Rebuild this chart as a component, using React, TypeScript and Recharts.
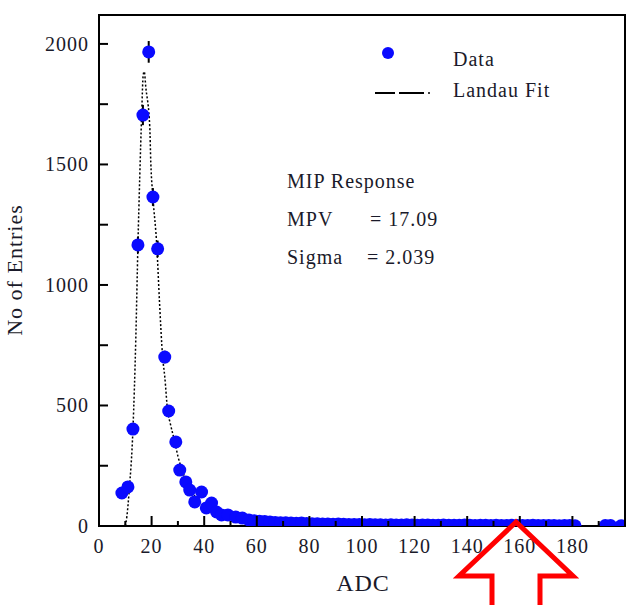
import React from 'react';
import {
  ComposedChart,
  Scatter,
  Line,
  XAxis,
  YAxis,
  ErrorBar,
  ReferenceArea,
} from 'recharts';

// measured histogram (ADC bin centre, entries, stat. error)
const dataAdc = [
  8.7, 11, 12.9, 14.8, 16.7, 18.9, 20.5, 22.3, 25, 26.5, 29.2, 30.7, 33, 34.5, 36.4, 39, 40.8, 42.8,
  44.7, 46.6, 49, 52, 54.5, 57, 59, 61, 63, 65, 67, 69, 71, 73, 75, 77, 79, 81, 83, 85, 87, 89, 91,
  93, 95, 97, 99, 101, 103, 105, 107, 109, 111, 113, 115, 117, 119, 121, 123, 125, 127, 129, 131,
  133, 135, 137, 139, 141, 143, 145, 147, 149, 151, 153, 155, 157, 159, 161, 163, 165, 167, 169,
  171, 173, 175, 177, 179, 181, 192.5, 194.5, 198.5,
];
const dataCounts = [
  137, 162, 402, 1166, 1705, 1967, 1365, 1150, 701, 477, 349, 232, 183, 149, 100, 141, 75, 95,
  58, 46, 46, 37, 33, 25, 22, 20, 19, 17, 15, 14, 13, 12, 11, 12, 10, 9, 9, 8, 8, 7, 8,
  7, 6, 6, 6, 5, 6, 5, 5, 4, 5, 4, 4, 5, 4, 3, 4, 4, 3, 3, 4,
  3, 3, 3, 4, 3, 2, 3, 3, 2, 3, 2, 2, 3, 2, 2, 2, 3, 2, 2,
  2, 2, 1, 2, 2, 1, 2, 2, 1,
];
const dataErr = [
  12, 13, 20, 34, 42, 45, 37, 34, 26, 22, 19, 15, 14, 12, 10, 12, 9, 10,
  8, 7, 7, 6, 6, 5, 5, 4, 4, 4, 4, 4, 4, 3, 3, 3, 3, 3, 3, 3, 3, 3, 3,
  3, 2, 2, 2, 2, 2, 2, 2, 2, 2, 2, 2, 2, 2, 2, 2, 2, 2, 2, 2,
  2, 2, 2, 2, 2, 1, 2, 2, 1, 2, 1, 1, 2, 1, 1, 1, 2, 1, 1,
  1, 1, 1, 1, 1, 1, 1, 1, 1,
];

// Landau fit curve
const fitAdc = [
  10, 10.6, 11.5, 12.9, 14, 14.8, 15.5, 16.2, 16.8, 17.2, 17.8, 19.3, 19.7, 20.5, 22, 23, 24.2,
  25, 26.1, 27, 28.8, 30, 32, 34, 36, 38, 40, 45, 50, 55, 60, 70, 80, 100, 130, 182,
];
const fitCounts = [
  0, 40, 150, 400, 780, 1166, 1450, 1700, 1870, 1885, 1820, 1656, 1506, 1365, 1158, 930, 701,
  620, 477, 430, 349, 290, 220, 170, 130, 105, 85, 52, 34, 24, 17, 10, 6, 3, 1, 0,
];

const xTicks = [0, 10, 20, 30, 40, 50, 60, 70, 80, 90, 100, 110, 120, 130, 140, 150, 160, 170, 180, 190, 200];
const yTicks = [0, 250, 500, 750, 1000, 1250, 1500, 1750, 2000];

const histData = dataAdc.map((adc, i) => ({ adc, count: dataCounts[i], err: dataErr[i] }));
const fitData = fitAdc.map((adc, i) => ({ adc, fit: fitCounts[i] }));

const FONT = '"Liberation Serif", "DejaVu Serif", serif';
const TEXT = '#1a1a2a';

const XTick = (props: any) => {
  const { x, y, payload } = props;
  const v = payload.value as number;
  const major = v % 20 === 0;
  return (
    <g>
      <line x1={x} x2={x} y1={y} y2={y - (major ? 10 : 5)} stroke="#000" strokeWidth={2} />
      {major && v < 200 && (
        <text x={x} y={y + 27} textAnchor="middle" fontSize={20} fontFamily={FONT} fill={TEXT} letterSpacing={1}>
          {v}
        </text>
      )}
    </g>
  );
};

const YTick = (props: any) => {
  const { x, y, payload } = props;
  const v = payload.value as number;
  return (
    <g>
      <line x1={x} x2={x + 9} y1={y} y2={y} stroke="#000" strokeWidth={2} />
      {v % 500 === 0 && (
        <text x={x - 10} y={y + 7} textAnchor="end" fontSize={20} fontFamily={FONT} fill={TEXT} letterSpacing={1}>
          {v}
        </text>
      )}
    </g>
  );
};

const txt: React.CSSProperties = {
  position: 'absolute',
  fontFamily: FONT,
  fontSize: 20,
  color: TEXT,
  letterSpacing: 1,
  whiteSpace: 'nowrap',
  lineHeight: '20px',
};

export default function App() {
  return (
    <div style={{ position: 'absolute', left: 0, top: 0, width: 636, height: 605, background: '#fff', overflow: 'hidden' }}>
      <ComposedChart width={636} height={605} margin={{ top: 15, right: 11, bottom: 49, left: 39 }}>
        <XAxis
          dataKey="adc"
          type="number"
          domain={[0, 200]}
          ticks={xTicks}
          interval={0}
          height={30}
          tickSize={0}
          tickMargin={0}
          tickLine={false}
          tick={<XTick />}
          axisLine={{ stroke: '#000', strokeWidth: 2 }}
          allowDataOverflow
        />
        <YAxis
          type="number"
          domain={[0, 2120]}
          ticks={yTicks}
          interval={0}
          width={60}
          tickSize={0}
          tickMargin={0}
          tickLine={false}
          tick={<YTick />}
          axisLine={{ stroke: '#000', strokeWidth: 2 }}
          allowDataOverflow
        />
        <ReferenceArea x1={0} x2={200} y1={0} y2={2120} fill="none" stroke="#000" strokeWidth={2} ifOverflow="visible" />
        <Line
          data={fitData}
          dataKey="fit"
          type="monotone"
          stroke="#000"
          strokeWidth={1.5}
          strokeDasharray="2 2"
          dot={false}
          activeDot={false}
          isAnimationActive={false}
        />
        <Scatter data={histData} dataKey="count" fill="#0a0aff" isAnimationActive={false}
          shape={(p: any) => <circle cx={p.cx} cy={p.cy} r={6.5} fill="#0a0aff" />}>
          <ErrorBar dataKey="err" direction="y" width={0} stroke="#000" strokeWidth={2} isAnimationActive={false} />
        </Scatter>
      </ComposedChart>

      {/* axis titles */}
      <div style={{ ...txt, fontSize: 22, left: 15, top: 270, transform: 'translate(-50%, -50%) rotate(-90deg)' }}>No of Entries</div>
      <div style={{ ...txt, fontSize: 24, left: 363, top: 583, transform: 'translate(-50%, -50%)' }}>ADC</div>

      {/* legend */}
      <svg style={{ position: 'absolute', left: 370, top: 40 }} width={70} height={65}>
        <circle cx={18} cy={13} r={6} fill="#0a0aff" />
        <line x1={5} x2={25} y1={53} y2={53} stroke="#000" strokeWidth={2} />
        <line x1={29} x2={54} y1={53} y2={53} stroke="#000" strokeWidth={2} />
        <circle cx={59} cy={53} r={1} fill="#000" />
      </svg>
      <div style={{ ...txt, left: 453, top: 49 }}>Data</div>
      <div style={{ ...txt, left: 453, top: 80 }}>Landau Fit</div>

      {/* fit results */}
      <div style={{ ...txt, left: 287, top: 171 }}>MIP Response</div>
      <div style={{ ...txt, left: 287, top: 209 }}>MPV</div>
      <div style={{ ...txt, left: 370, top: 209 }}>= 17.09</div>
      <div style={{ ...txt, left: 287, top: 247 }}>Sigma</div>
      <div style={{ ...txt, left: 367, top: 247 }}>= 2.039</div>

      {/* red arrow annotation */}
      <svg style={{ position: 'absolute', left: 0, top: 0 }} width={636} height={605}>
        <polygon
          points="516,522 459,576 492,576 492,612 540,612 540,576 573,576"
          fill="none"
          stroke="#ff0000"
          strokeWidth={5}
        />
      </svg>
    </div>
  );
}
